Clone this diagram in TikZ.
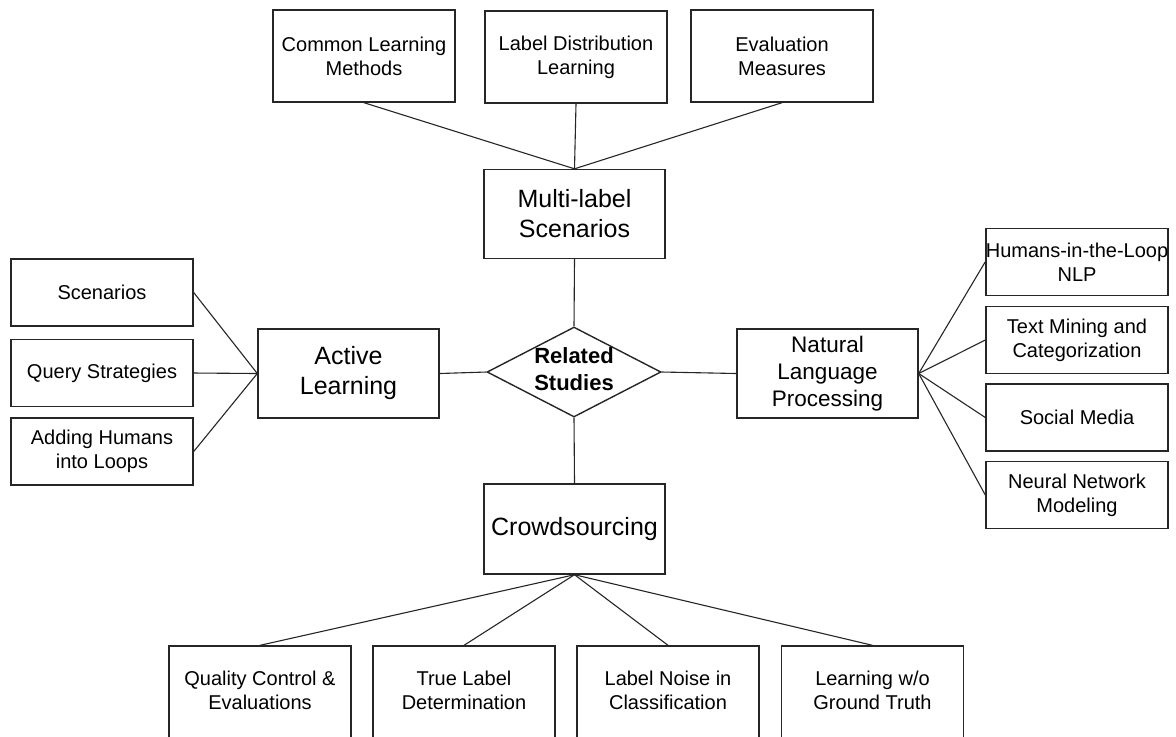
\documentclass[tikz,border=0pt]{standalone}
\usepackage{fontspec}
\setmainfont{Liberation Sans}
\usetikzlibrary{shapes.geometric}
\begin{document}
\begin{tikzpicture}[x=0.5pt,y=-0.5pt,
  box/.style={draw=black!85, line width=0.7pt, rectangle, inner sep=0pt,
    align=center, font=\fontsize{10}{12}\selectfont, minimum width=91pt},
  topbox/.style={box, minimum height=46pt},
  lowbox/.style={box, minimum height=56pt},
  sidebox/.style={box, minimum height=33.5pt},
  bigbox/.style={box, minimum width=90.5pt, minimum height=44.5pt,
    font=\fontsize{12.5}{15}\selectfont},
  link/.style={draw=black!85, line width=0.55pt}
]
\clip (0,0) rectangle (1176,736);
\fill[white] (0,0) rectangle (1176,736);

% upper branch
\node[topbox] (clm) at (364,56) {Common Learning\\Methods};
\node[topbox] (ldl) at (576,57) {Label Distribution\\Learning};
\node[topbox] (evm) at (782,56) {Evaluation\\Measures};
\node[bigbox] (mls) at (574.5,214) {Multi-label\\Scenarios};

% hub
\node[draw=black!85, line width=0.7pt, diamond, inner sep=0pt,
  minimum width=87pt, minimum height=45pt] (rs) at (574,372) {};
\node[align=center, inner sep=0pt,
  font=\fontsize{11}{13.5}\selectfont\bfseries] (rstext) at (574,369) {Related\\Studies};

% left branch
\node[bigbox] (al) at (348.5,373.5) {Active\\Learning};
\node[sidebox] (sc) at (102,292.5) {Scenarios};
\node[sidebox] (qs) at (102,373) {Query Strategies};
\node[sidebox] (ah) at (102,451.5) {Adding Humans\\into Loops};

% right branch
\node[bigbox, font=\fontsize{11.25}{13.5}\selectfont] (nlp) at (827.5,373.5)
  {Natural\\Language\\Processing};
\node[sidebox] (hl) at (1077,262) {Humans-in-the-Loop\\NLP};
\node[sidebox] (tm) at (1077,340) {Text Mining and\\Categorization};
\node[sidebox] (sm) at (1077,417.5) {Social Media};
\node[sidebox] (nn) at (1077,495) {Neural Network\\Modeling};

% lower branch (boxes run past the lower edge)
\node[bigbox, minimum height=45pt] (cs) at (574.5,529) {Crowdsourcing};
\node[lowbox] (qc) at (260,702) {Quality Control \&\\Evaluations\\\mbox{}};
\node[lowbox] (tl) at (464,702) {True Label\\Determination\\\mbox{}};
\node[lowbox] (ln) at (668,702) {Label Noise in\\Classification\\\mbox{}};
\node[lowbox] (lg) at (872.5,702) {Learning w/o\\Ground Truth\\\mbox{}};

% connectors
\draw[link] (clm.south) -- (mls.north);
\draw[link] (ldl.south) -- (mls.north);
\draw[link] (evm.south) -- (mls.north);
\draw[link] (mls.south) -- (rs.north);
\draw[link] (rs.south) -- (cs.north);
\draw[link] (al.east) -- (rs.west);
\draw[link] (rs.east) -- (nlp.west);
\foreach \n in {sc,qs,ah} \draw[link] (al.west) -- (\n.east);
\foreach \n in {hl,tm,sm,nn} \draw[link] (nlp.east) -- (\n.west);
\foreach \n in {qc,tl,ln,lg} \draw[link] (cs.south) -- (\n.north);
\end{tikzpicture}
\end{document}
